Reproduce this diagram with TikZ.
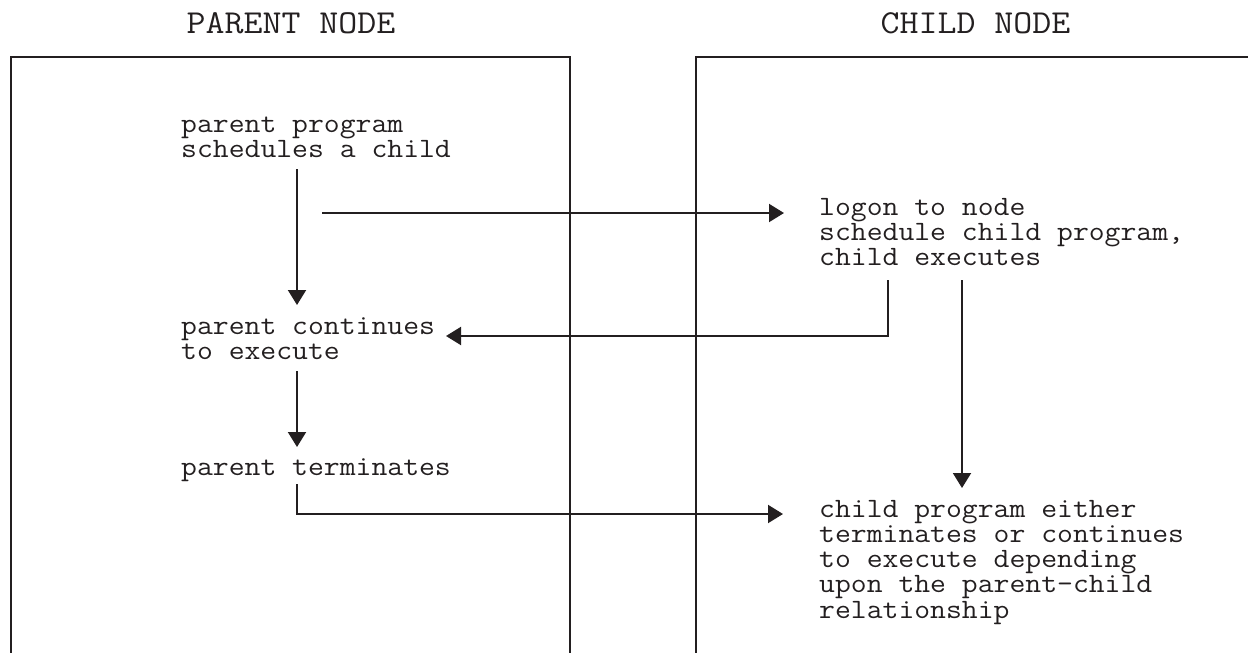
\documentclass[tikz,border=0pt]{standalone}
\usepackage{fontspec}
\usepackage{graphicx}
\usetikzlibrary{arrows.meta,calc}
\definecolor{ink}{RGB}{35,31,32}
% typewriter text widened a little
\newcommand\wide[1]{\scalebox{1.1}[1]{#1}}
% stacked lines whose baseline is the first line's baseline
\newcommand\linestack[1]{\wide{\vtop{\baselineskip=25.3pt\lineskiplimit=-100pt\relax #1}}}
\begin{document}
\begin{tikzpicture}[x=1pt,y=-1pt,
  every node/.style={inner sep=0pt,text=ink},
  title/.style={font=\ttfamily\fontsize{33.5}{40}\selectfont,anchor=base},
  body/.style={font=\ttfamily\fontsize{28}{25.3}\selectfont,anchor=base west},
  frame/.style={draw=ink,line width=2pt},
  link/.style={draw=ink,line width=2pt},
  arr/.style={link,-{Triangle[width=18pt,length=15pt]}}]
\useasboundingbox (0,0) rectangle (1248,653);

% the two node frames, open at the bottom
\draw[frame] (11,660) -- (11,57) -- (570,57) -- (570,660);
\draw[frame] (696,660) -- (696,57) -- (1260,57);

% headings
\node[title] (hp) at (291,33) {\wide{PARENT NODE}};
\node[title] (hc) at (975.5,33) {\wide{CHILD NODE}};

% parent side
\node[body] (pp) at (181,132) {\linestack{\hbox{parent program}\hbox{schedules a child}}};
\node[body] (pc) at (181,334) {\linestack{\hbox{parent continues}\hbox{to execute}}};
\node[body] (pt) at (181,475) {\wide{parent terminates}};

% child side
\node[body] (lg) at (819,215) {\linestack{\hbox{logon to node}\hbox{schedule child program,}\hbox{child executes}}};
\node[body] (ce) at (819,517) {\linestack{\hbox{child program either}\hbox{terminates or continues}\hbox{to execute depending}\hbox{upon the parent-child}\hbox{relationship}}};

% flow columns
\coordinate (colP) at (297,0);
\coordinate (colB) at (888,0);
\coordinate (colC) at (962,0);

% connectors
\draw[arr] ($(pp.base -| colP)+(0,37)$) -- ($(pc.base -| colP)+(0,-29)$);
\draw[arr] ($(lg.base -| colP)+(25,-2)$) -- ($(lg.base west)+(-35,-2)$);
\draw[arr] ($(lg.base -| colB)+(0,65)$) |- ($(pc.base west)+(265,2)$);
\draw[arr] ($(pc.base -| colP)+(0,37)$) -- ($(pt.base -| colP)+(0,-28)$);
\draw[arr] ($(lg.base -| colC)+(0,65)$) -- ($(ce.base -| colC)+(0,-29)$);
\draw[arr] ($(pt.base -| colP)+(0,9)$) |- ($(ce.base west)+(-36,-3)$);
\end{tikzpicture}
\end{document}
